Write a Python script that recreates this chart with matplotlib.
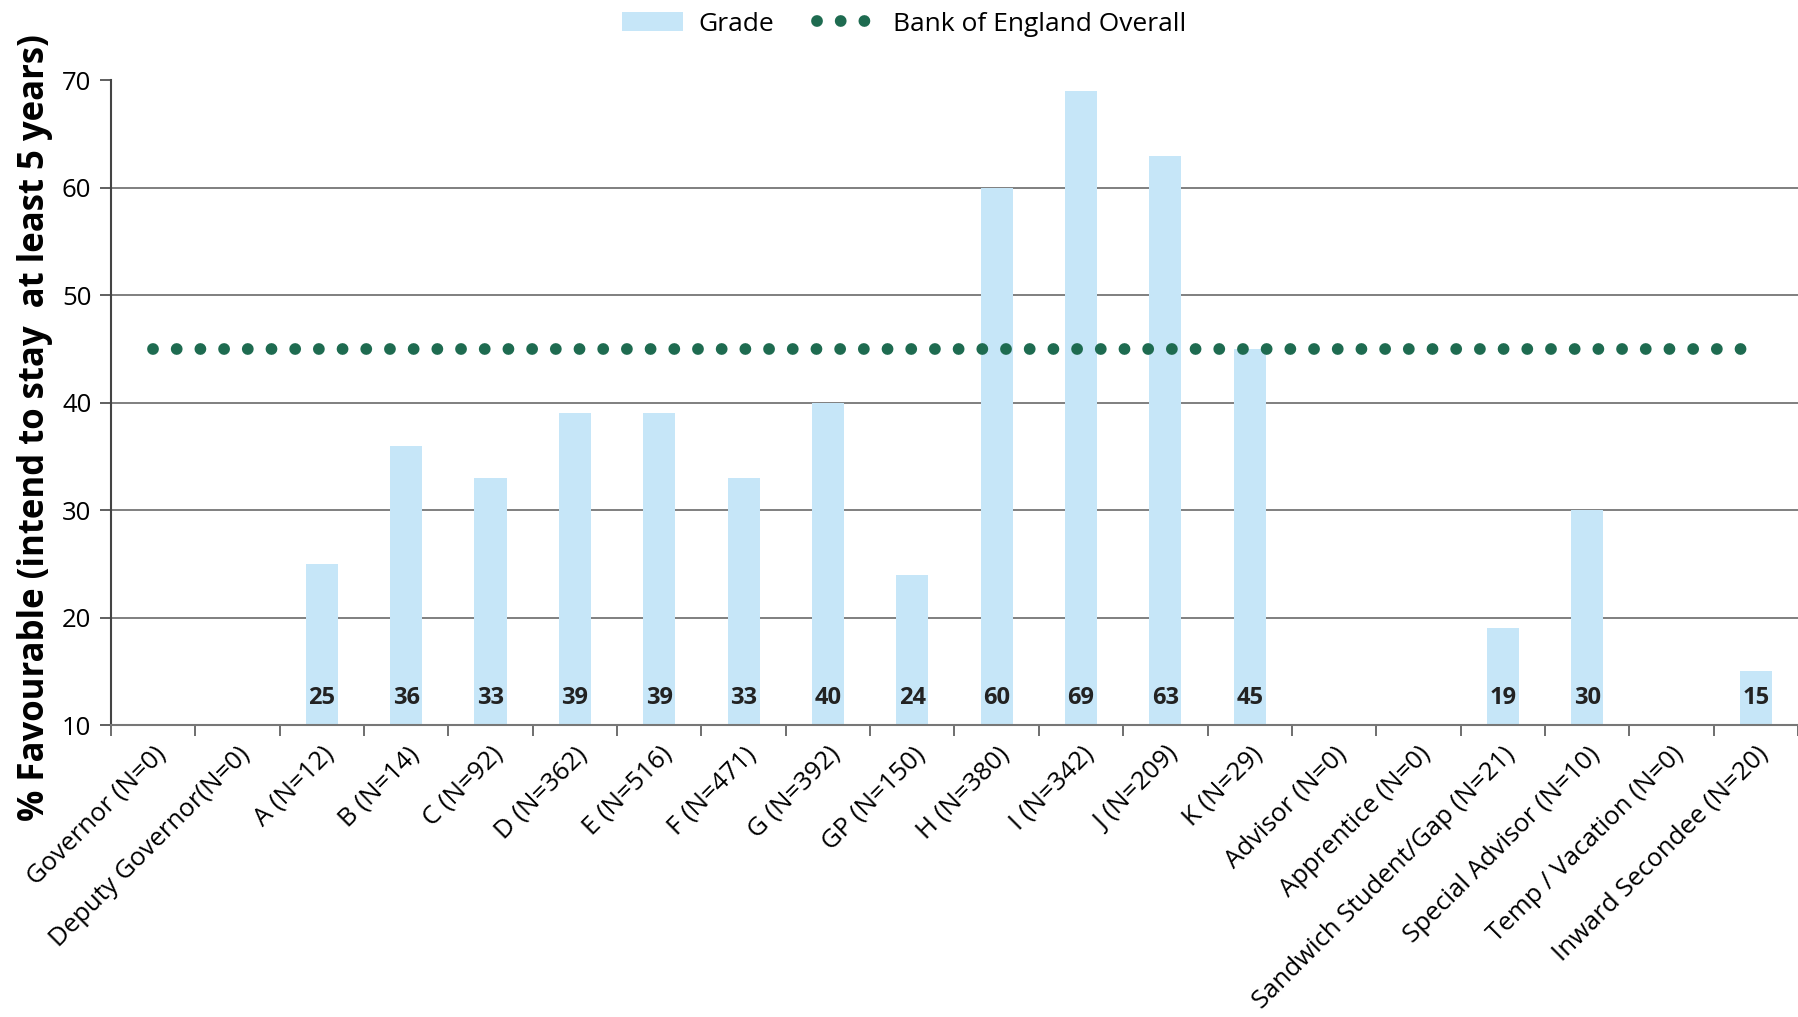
import numpy as np
import matplotlib.pyplot as plt
from matplotlib.lines import Line2D
from matplotlib.patches import Patch

plt.rcParams['font.family'] = ['Open Sans', 'DejaVu Sans']
plt.rcParams['lines.scale_dashes'] = False

categories = ['Governor (N=0)', 'Deputy Governor(N=0)', 'A (N=12)', 'B (N=14)', 'C (N=92)',
              'D (N=362)', 'E (N=516)', 'F (N=471)', 'G (N=392)', 'GP (N=150)', 'H (N=380)',
              'I (N=342)', 'J (N=209)', 'K (N=29)', 'Advisor (N=0)', 'Apprentice (N=0)',
              'Sandwich Student/Gap (N=21)', 'Special Advisor (N=10)', 'Temp / Vacation (N=0)',
              'Inward Secondee (N=20)']
grade = [np.nan, np.nan, 25, 36, 33, 39, 39, 33, 40, 24, 60, 69, 63, 45, np.nan, np.nan,
         19, 30, np.nan, 15]
overall = 45
yticks = [10, 20, 30, 40, 50, 60, 70]

bar_color = '#c6e6f8'
dot_color = '#1e6b50'
dot_style = (0, (0.01, 17.05))

fig = plt.figure(figsize=(17.98, 10.17), dpi=100)
ax = fig.add_axes([0.0617, 0.287, 0.9383, 0.634])

x = np.arange(len(categories))
vals = np.array(grade, dtype=float)
ax.bar(x, np.nan_to_num(vals), width=0.38, color=bar_color, zorder=2)

for xi, v in zip(x, vals):
    if not np.isnan(v):
        ax.text(xi, 12.5, '%d' % v, ha='center', va='center', fontsize=17,
                fontweight='bold', color='#222222', zorder=4)

ax.plot([x[0], x[-1]], [overall, overall], color=dot_color, lw=8.5,
        linestyle=dot_style, dash_capstyle='round', zorder=3)

ax.set_xlim(-0.5, len(categories) - 0.5)
ax.set_ylim(10, 70)
ax.set_yticks(yticks)
ax.set_yticklabels([str(t) for t in yticks], fontsize=18.5)
ax.yaxis.grid(True, color='#6a6a6a', lw=1.2, zorder=0)
ax.set_axisbelow(True)
ax.get_ygridlines()[-1].set_visible(False)

ax.set_xticks(x)
ax.set_xticklabels(categories, rotation=45, ha='right', rotation_mode='anchor', fontsize=18.5)
ax.tick_params(axis='x', which='major', length=0, pad=12)
ax.set_xticks(np.arange(-0.5, len(categories), 1), minor=True)
ax.tick_params(axis='x', which='minor', length=8, width=1.2, color='#555555')
ax.tick_params(axis='y', length=8, width=1.2, color='#444444', pad=6)

for s in ['top', 'right']:
    ax.spines[s].set_visible(False)
ax.spines['left'].set_color('#444444')
ax.spines['left'].set_linewidth(1.5)
ax.spines['bottom'].set_color('#777777')
ax.spines['bottom'].set_linewidth(1.5)

ax.set_ylabel('% Favourable (intend to stay  at least 5 years)', fontsize=25,
              fontweight='bold', va='center')
ax.yaxis.set_label_coords(-0.045, 0.462)

handles = [Patch(facecolor=bar_color, edgecolor='none'),
           Line2D([0], [0], color=dot_color, lw=8.5, linestyle=dot_style,
                  dash_capstyle='round')]
fig.legend(handles, ['Grade', 'Bank of England Overall'], loc='upper center',
           bbox_to_anchor=(0.503, 1.012), ncol=2, frameon=False, fontsize=19,
           handlelength=2.3, handletextpad=0.6, columnspacing=1.6)

fig.savefig('out.png', dpi=100)
